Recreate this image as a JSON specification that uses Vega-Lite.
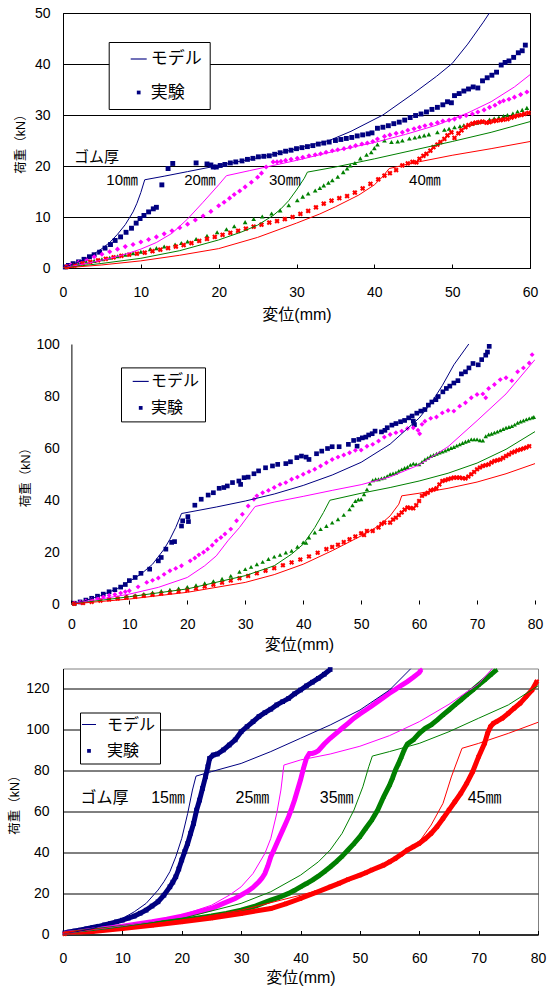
{
"$schema":"https://vega.github.io/schema/vega-lite/v6.json",
"background":"white",
"padding":{"left":8,"top":5,"right":2,"bottom":0},
"spacing":14.5,
"resolve":{"scale":{"shape":"independent","size":"independent"},"legend":{"shape":"independent","size":"independent"}},
"config":{
"font":"Liberation Sans, Noto Sans CJK JP, sans-serif",
"axis":{"domainColor":"#000","domainWidth":1,"tickColor":"#000","tickWidth":1,"gridColor":"#000","gridWidth":1,"gridOpacity":1,"labelColor":"#000","labelFontSize":14,"labelFont":"Liberation Sans, Arial, sans-serif","labelFlush":false,"labelOverlap":false,"titleColor":"#000","titleFont":"Liberation Sans, Noto Sans CJK JP, sans-serif","titleFontWeight":"normal"},
"axisX":{"titleFontSize":16},
"axisY":{"titleFontSize":12.5},
"legend":{"labelFont":"Noto Sans CJK JP, sans-serif","labelColor":"#000","strokeColor":"#000","fillColor":"#fff","symbolOpacity":1,"labelBaseline":"middle"}
},
"datasets":{
"p1m1":[{"x":0,"y":0},{"x":1,"y":0.6},{"x":2,"y":1.2},{"x":3,"y":1.9},{"x":4,"y":2.8},{"x":5,"y":3.8},{"x":6,"y":5},{"x":7,"y":6.6},{"x":8,"y":8.5},{"x":9,"y":11},{"x":9.5,"y":12.7},{"x":10,"y":14.8},{"x":10.5,"y":17.3},{"x":13,"y":18},{"x":16,"y":18.9},{"x":19,"y":19.8},{"x":22,"y":20.7},{"x":25,"y":21.6},{"x":28,"y":22.6},{"x":31,"y":23.8},{"x":34.2,"y":25},{"x":37,"y":26.8},{"x":41.1,"y":30},{"x":45,"y":34.2},{"x":48,"y":37.6},{"x":50,"y":40.1},{"x":52,"y":43.9},{"x":54,"y":48.2},{"x":55,"y":50.5}],
"p1m2":[{"x":0,"y":0},{"x":2,"y":0.6},{"x":4,"y":1.2},{"x":6,"y":1.9},{"x":8,"y":2.7},{"x":10,"y":3.7},{"x":12,"y":5},{"x":14,"y":6.8},{"x":16,"y":9.6},{"x":18,"y":12.9},{"x":20,"y":16.3},{"x":21,"y":18.1},{"x":24,"y":19.1},{"x":27,"y":20.1},{"x":30,"y":21.1},{"x":33,"y":22.2},{"x":36,"y":23.3},{"x":40,"y":24.6},{"x":44,"y":26.2},{"x":48,"y":28},{"x":52,"y":30.4},{"x":55,"y":32.6},{"x":58,"y":35.5},{"x":60,"y":37.9}],
"p1m3":[{"x":0,"y":0},{"x":5,"y":0.9},{"x":10,"y":1.9},{"x":15,"y":3.4},{"x":20,"y":5.5},{"x":23,"y":7.1},{"x":25,"y":8.4},{"x":27,"y":10.3},{"x":28,"y":11.6},{"x":29,"y":13.2},{"x":30,"y":15.3},{"x":31,"y":17.6},{"x":31.4,"y":18.8},{"x":35,"y":19.8},{"x":40,"y":21.4},{"x":45,"y":23.1},{"x":50,"y":24.8},{"x":55,"y":26.6},{"x":60,"y":28.7}],
"p1m4":[{"x":0,"y":0},{"x":5,"y":0.6},{"x":10,"y":1.4},{"x":15,"y":2.5},{"x":20,"y":3.8},{"x":25,"y":6},{"x":30,"y":8.8},{"x":33,"y":10.6},{"x":35,"y":12},{"x":38,"y":14.3},{"x":40,"y":16.3},{"x":41,"y":17.8},{"x":41.9,"y":19.5},{"x":45,"y":20.6},{"x":50,"y":22.1},{"x":55,"y":23.4},{"x":60,"y":24.8}],
"p1e1":[{"x":0.3,"y":0.2},{"x":0.7,"y":0.5},{"x":1.3,"y":0.85},{"x":2,"y":1.2},{"x":2.7,"y":1.7},{"x":3.4,"y":2.2},{"x":4,"y":2.6},{"x":4.7,"y":3.1},{"x":5.4,"y":3.9},{"x":6.1,"y":4.6},{"x":6.7,"y":5.4},{"x":7.4,"y":6.1},{"x":8.1,"y":7},{"x":8.8,"y":7.8},{"x":9.4,"y":8.8},{"x":9.9,"y":9.7},{"x":10.4,"y":10.3},{"x":11,"y":11},{"x":11.6,"y":11.6},{"x":12,"y":11.9},{"x":12.7,"y":16.3},{"x":13.5,"y":19.5},{"x":14.1,"y":20.5},{"x":17.1,"y":20.6},{"x":18.5,"y":20.4},{"x":19,"y":20.2},{"x":19.3,"y":19.8},{"x":19.7,"y":19.8},{"x":20.2,"y":20.1},{"x":20.8,"y":20.3},{"x":21.5,"y":20.6},{"x":22.2,"y":20.8},{"x":23,"y":21},{"x":23.7,"y":21.3},{"x":24.4,"y":21.5},{"x":25.1,"y":21.8},{"x":25.8,"y":21.9},{"x":26.5,"y":22},{"x":27.2,"y":22.3},{"x":27.9,"y":22.6},{"x":28.6,"y":22.9},{"x":29.3,"y":23.1},{"x":30,"y":23.4},{"x":30.7,"y":23.6},{"x":31.4,"y":23.8},{"x":32.1,"y":24},{"x":32.8,"y":24.3},{"x":33.5,"y":24.5},{"x":34.2,"y":24.7},{"x":35,"y":25},{"x":35.7,"y":25.2},{"x":36.4,"y":25.4},{"x":37.1,"y":25.6},{"x":37.8,"y":25.9},{"x":38.5,"y":26.1},{"x":39.2,"y":26.3},{"x":39.7,"y":26.5},{"x":40.4,"y":27.4},{"x":41.1,"y":27.6},{"x":41.8,"y":27.9},{"x":42.5,"y":28.3},{"x":43.2,"y":28.6},{"x":43.9,"y":29},{"x":44.6,"y":29.5},{"x":45.3,"y":29.9},{"x":46,"y":30.2},{"x":46.7,"y":30.6},{"x":47.4,"y":31.1},{"x":48.1,"y":31.5},{"x":48.8,"y":32},{"x":49.4,"y":32.6},{"x":49.9,"y":32.4},{"x":50.3,"y":33.8},{"x":50.9,"y":34.2},{"x":51.5,"y":34.7},{"x":52.1,"y":35.1},{"x":52.7,"y":35.5},{"x":53.3,"y":35.3},{"x":53.9,"y":36.7},{"x":54.5,"y":37.3},{"x":55.1,"y":37.8},{"x":55.7,"y":38.4},{"x":56.3,"y":39.8},{"x":56.8,"y":40.3},{"x":57.3,"y":40.6},{"x":57.9,"y":41.3},{"x":58.5,"y":42.2},{"x":59,"y":42.6},{"x":59.4,"y":43.7}],
"p1e2":[{"x":0.5,"y":0.3},{"x":1,"y":0.6},{"x":2,"y":1.1},{"x":3,"y":1.6},{"x":4,"y":2.2},{"x":5,"y":2.7},{"x":6,"y":3.2},{"x":7,"y":3.7},{"x":8,"y":4.2},{"x":9,"y":4.6},{"x":10,"y":5.1},{"x":11,"y":5.6},{"x":12,"y":6.1},{"x":13,"y":6.7},{"x":14,"y":7.3},{"x":15,"y":7.9},{"x":16,"y":8.6},{"x":17,"y":9.4},{"x":18,"y":10.2},{"x":19,"y":11.1},{"x":20,"y":12.2},{"x":20.7,"y":12.9},{"x":21.4,"y":13.7},{"x":22,"y":14.4},{"x":22.7,"y":15.1},{"x":23.4,"y":15.9},{"x":24.2,"y":16.8},{"x":25,"y":17.8},{"x":25.5,"y":18.6},{"x":26.1,"y":19.8},{"x":27,"y":20.8},{"x":27.5,"y":20.8},{"x":28,"y":20.9},{"x":28.6,"y":21.1},{"x":29.3,"y":21.3},{"x":30.1,"y":21.5},{"x":30.8,"y":21.7},{"x":31.6,"y":22},{"x":32.4,"y":22.2},{"x":33.1,"y":22.4},{"x":33.8,"y":22.7},{"x":34.6,"y":23},{"x":35.3,"y":23.2},{"x":36.1,"y":23.4},{"x":36.9,"y":23.7},{"x":37.6,"y":24},{"x":38.4,"y":24.3},{"x":39.1,"y":24.5},{"x":39.8,"y":24.8},{"x":40.4,"y":25.3},{"x":41.3,"y":25.8},{"x":42,"y":26.1},{"x":42.8,"y":26.4},{"x":43.6,"y":26.6},{"x":44.3,"y":27},{"x":45.1,"y":27.3},{"x":45.8,"y":27.6},{"x":46.5,"y":27.9},{"x":47.3,"y":28.2},{"x":48.1,"y":28.5},{"x":48.8,"y":28.8},{"x":49.6,"y":29},{"x":50.3,"y":29.2},{"x":51,"y":29.6},{"x":51.8,"y":29.9},{"x":52.6,"y":30.2},{"x":53.3,"y":30.6},{"x":54.1,"y":31},{"x":54.8,"y":31.5},{"x":55.5,"y":31.9},{"x":56.1,"y":32.5},{"x":56.6,"y":32.8},{"x":57.3,"y":33.1},{"x":58,"y":33.5},{"x":58.8,"y":34},{"x":59.6,"y":34.5}],
"p1e3":[{"x":0.5,"y":0.2},{"x":1.2,"y":0.5},{"x":2,"y":0.8},{"x":3,"y":1.1},{"x":4,"y":1.4},{"x":5,"y":1.7},{"x":6,"y":2},{"x":7,"y":2.3},{"x":8,"y":2.6},{"x":9,"y":2.9},{"x":10,"y":3.2},{"x":11.2,"y":3.7},{"x":12,"y":3.9},{"x":13,"y":4.2},{"x":14.4,"y":4.6},{"x":15.2,"y":4.9},{"x":16,"y":5.2},{"x":17.1,"y":5.7},{"x":18.5,"y":6.3},{"x":19.8,"y":7},{"x":21,"y":7.6},{"x":22,"y":8.2},{"x":23.4,"y":9},{"x":24.5,"y":9.6},{"x":25.6,"y":10.1},{"x":26.8,"y":10.7},{"x":27.9,"y":11.3},{"x":29,"y":12.3},{"x":30.1,"y":13.3},{"x":30.8,"y":14},{"x":31.5,"y":14.6},{"x":32.4,"y":15.2},{"x":33,"y":15.7},{"x":33.5,"y":16.2},{"x":34.1,"y":16.7},{"x":34.6,"y":17.2},{"x":35.3,"y":17.9},{"x":36,"y":18.8},{"x":36.5,"y":19.5},{"x":36.9,"y":20.1},{"x":37.5,"y":20.6},{"x":38.2,"y":21.5},{"x":39,"y":22.2},{"x":39.6,"y":22.7},{"x":40,"y":23.5},{"x":40.4,"y":24.2},{"x":41.3,"y":25},{"x":42.2,"y":24.7},{"x":43,"y":24.8},{"x":43.6,"y":25},{"x":44.5,"y":25.4},{"x":45.2,"y":25.6},{"x":45.8,"y":25.8},{"x":46.4,"y":26},{"x":47,"y":26.2},{"x":48.1,"y":26.6},{"x":49,"y":27.1},{"x":49.6,"y":27.3},{"x":50.3,"y":27.6},{"x":51,"y":27.8},{"x":51.5,"y":28},{"x":52.6,"y":28.3},{"x":53.2,"y":28.5},{"x":53.7,"y":28.7},{"x":54.8,"y":29.1},{"x":55.4,"y":29.3},{"x":56,"y":29.5},{"x":56.6,"y":29.8},{"x":57.1,"y":30},{"x":57.8,"y":30.3},{"x":58.4,"y":30.7},{"x":59,"y":31},{"x":59.6,"y":31.4}],
"p1e4":[{"x":0.5,"y":0.2},{"x":1.5,"y":0.5},{"x":2.5,"y":0.9},{"x":3.5,"y":1.2},{"x":4.5,"y":1.5},{"x":5.5,"y":1.8},{"x":6.5,"y":2.1},{"x":7.5,"y":2.4},{"x":8.5,"y":2.6},{"x":9.5,"y":2.8},{"x":10.5,"y":3},{"x":11.5,"y":3.3},{"x":12.5,"y":3.6},{"x":13.5,"y":3.9},{"x":14.5,"y":4.2},{"x":15.5,"y":4.5},{"x":16.5,"y":4.9},{"x":17.5,"y":5.3},{"x":18.5,"y":5.7},{"x":19.5,"y":6.1},{"x":20.5,"y":6.5},{"x":21.5,"y":6.9},{"x":22.5,"y":7.3},{"x":23.5,"y":7.7},{"x":24.5,"y":8.1},{"x":25.5,"y":8.5},{"x":26.5,"y":8.9},{"x":27.5,"y":9.2},{"x":28.5,"y":9.6},{"x":29.5,"y":10},{"x":30.5,"y":10.6},{"x":31.5,"y":11.2},{"x":32.5,"y":11.9},{"x":33.5,"y":12.6},{"x":34.5,"y":13.2},{"x":35.5,"y":13.7},{"x":36.5,"y":14.1},{"x":37.5,"y":14.8},{"x":38.5,"y":15.6},{"x":39.5,"y":16.5},{"x":40.5,"y":17.4},{"x":41.3,"y":18.1},{"x":42,"y":18.6},{"x":42.8,"y":19.2},{"x":43.6,"y":20.1},{"x":44.3,"y":20.5},{"x":44.9,"y":20.8},{"x":45.4,"y":20.7},{"x":45.8,"y":21.4},{"x":46.3,"y":22},{"x":46.7,"y":22.4},{"x":47.2,"y":23},{"x":47.6,"y":23.7},{"x":48.1,"y":24.2},{"x":48.5,"y":24.7},{"x":49,"y":25.3},{"x":49.4,"y":26},{"x":49.9,"y":26.6},{"x":50.3,"y":25.5},{"x":50.8,"y":26.4},{"x":51.2,"y":27},{"x":51.7,"y":27.6},{"x":52.1,"y":28},{"x":52.6,"y":28.3},{"x":53,"y":28.5},{"x":53.5,"y":28.6},{"x":53.9,"y":28.7},{"x":54.4,"y":28.5},{"x":54.8,"y":28.6},{"x":55.3,"y":28.8},{"x":55.7,"y":28.9},{"x":56.2,"y":29},{"x":56.6,"y":29.1},{"x":57.1,"y":29.2},{"x":57.6,"y":29.5},{"x":58,"y":29.7},{"x":58.4,"y":29.9},{"x":58.9,"y":30},{"x":59.3,"y":30.2},{"x":59.8,"y":30.4}],
"p1lab":[{"x":4.3,"y":21.7,"t":"ゴム厚"},{"x":7.6,"y":17.2,"t":"10㎜"},{"x":17.6,"y":17.2,"t":"20㎜"},{"x":28.5,"y":17.2,"t":"30㎜"},{"x":46.5,"y":17.2,"t":"40㎜"}],
"p2m1":[{"x":0,"y":0},{"x":2,"y":1},{"x":5,"y":3.2},{"x":8,"y":6},{"x":10,"y":8.7},{"x":12,"y":11.5},{"x":14,"y":15.3},{"x":16,"y":21.1},{"x":17,"y":24.9},{"x":18,"y":29.4},{"x":19,"y":34.8},{"x":25,"y":37.3},{"x":30,"y":39.6},{"x":35,"y":42.3},{"x":40,"y":45.6},{"x":45,"y":49.6},{"x":50,"y":54.5},{"x":55,"y":61.5},{"x":60,"y":71.5},{"x":62,"y":77},{"x":64,"y":84},{"x":66,"y":92},{"x":68.7,"y":100.4}],
"p2m2":[{"x":0,"y":0},{"x":5,"y":1.9},{"x":10,"y":3.8},{"x":15,"y":6.4},{"x":20,"y":10.2},{"x":23,"y":14.7},{"x":25,"y":18.5},{"x":27,"y":24.3},{"x":29,"y":29.4},{"x":30.5,"y":33.9},{"x":31.7,"y":37.5},{"x":35,"y":39.2},{"x":40,"y":41.4},{"x":45,"y":43.7},{"x":50,"y":45.9},{"x":55,"y":48.9},{"x":60,"y":53.5},{"x":65,"y":60.5},{"x":70,"y":70.5},{"x":75,"y":80.8},{"x":80,"y":94}],
"p2m3":[{"x":0,"y":0},{"x":10,"y":2.8},{"x":20,"y":5.8},{"x":30,"y":10.9},{"x":35,"y":14.7},{"x":38,"y":19.2},{"x":40,"y":23},{"x":42,"y":29.4},{"x":43.5,"y":35.2},{"x":44.6,"y":39.9},{"x":50,"y":42.6},{"x":55,"y":44.8},{"x":60,"y":47.3},{"x":65,"y":50.3},{"x":70,"y":54.2},{"x":75,"y":59.5},{"x":80,"y":66.3}],
"p2m4":[{"x":0,"y":0},{"x":10,"y":1.9},{"x":20,"y":4.5},{"x":30,"y":8.3},{"x":35,"y":11.3},{"x":40,"y":15.3},{"x":45,"y":20.5},{"x":50,"y":26.2},{"x":53,"y":30},{"x":55,"y":33.9},{"x":56.5,"y":38.4},{"x":57,"y":41.6},{"x":60,"y":42.6},{"x":65,"y":44.5},{"x":70,"y":46.9},{"x":75,"y":50.1},{"x":80,"y":54}],
"p2e1":[{"x":0.5,"y":0.3},{"x":1.5,"y":0.8},{"x":2.5,"y":1.5},{"x":3.5,"y":2.2},{"x":4.5,"y":3},{"x":5.5,"y":3.8},{"x":6.5,"y":4.7},{"x":7.5,"y":5.5},{"x":8.5,"y":6.5},{"x":9.3,"y":7.5},{"x":10,"y":9},{"x":11,"y":10.2},{"x":12,"y":11.8},{"x":13.5,"y":13.4},{"x":15,"y":16.6},{"x":15.5,"y":17.9},{"x":16.3,"y":21.1},{"x":17.3,"y":23.7},{"x":17.8,"y":24},{"x":19,"y":30},{"x":19.2,"y":32},{"x":20.1,"y":33.6},{"x":20.2,"y":31.7},{"x":21.3,"y":38},{"x":22.4,"y":40.3},{"x":23.6,"y":41.9},{"x":24.5,"y":42.8},{"x":25.5,"y":44.5},{"x":26.3,"y":44.8},{"x":26.9,"y":45.4},{"x":27.8,"y":46.7},{"x":28.9,"y":47.3},{"x":29.2,"y":46},{"x":29.8,"y":48.6},{"x":30.5,"y":48.8},{"x":31.5,"y":50.1},{"x":32.3,"y":51.2},{"x":33.5,"y":52.4},{"x":34.7,"y":53.1},{"x":35.6,"y":53.7},{"x":37,"y":54},{"x":37.8,"y":54.7},{"x":38.9,"y":56.3},{"x":39.7,"y":56.9},{"x":40.5,"y":56.5},{"x":41,"y":55.6},{"x":42.3,"y":57.8},{"x":43.2,"y":58.8},{"x":44.2,"y":59.8},{"x":45,"y":60.5},{"x":46.2,"y":60.5},{"x":47.8,"y":61.4},{"x":48.7,"y":62.9},{"x":49.3,"y":60.7},{"x":49.6,"y":63.3},{"x":50.2,"y":63.9},{"x":50.8,"y":64.2},{"x":51.3,"y":65},{"x":51.9,"y":65.5},{"x":52.4,"y":66.5},{"x":53.5,"y":66.2},{"x":54.1,"y":66.8},{"x":54.5,"y":67.8},{"x":55.3,"y":68.8},{"x":56,"y":69.4},{"x":56.8,"y":70.1},{"x":57.5,"y":70.6},{"x":58.2,"y":71.6},{"x":58.8,"y":72.3},{"x":59,"y":70.3},{"x":59.2,"y":69},{"x":59.6,"y":73.4},{"x":60.3,"y":74.2},{"x":61,"y":74.8},{"x":61.6,"y":76.5},{"x":62.2,"y":77.7},{"x":62.9,"y":78.6},{"x":63.3,"y":79.8},{"x":64.1,"y":81.6},{"x":64.7,"y":82.9},{"x":65.3,"y":83.8},{"x":66,"y":85},{"x":66.7,"y":85.9},{"x":67.3,"y":88.5},{"x":68,"y":89.3},{"x":68.6,"y":90.8},{"x":69.3,"y":92.5},{"x":70.2,"y":92},{"x":70.8,"y":94},{"x":71.5,"y":95.7},{"x":71.8,"y":96.9},{"x":72.1,"y":99.1}],
"p2e2":[{"x":0.5,"y":0.3},{"x":1.5,"y":0.7},{"x":2.5,"y":1.2},{"x":3.5,"y":1.7},{"x":4.5,"y":2.3},{"x":5.5,"y":2.8},{"x":6.5,"y":3.3},{"x":7.5,"y":3.7},{"x":8.5,"y":4.2},{"x":9.3,"y":4.7},{"x":10,"y":5.1},{"x":11.5,"y":6.6},{"x":13,"y":8.3},{"x":14,"y":9.1},{"x":15,"y":10},{"x":16,"y":11.4},{"x":17,"y":12.8},{"x":18,"y":13.7},{"x":19,"y":14.7},{"x":20.5,"y":16.6},{"x":21.3,"y":17.7},{"x":22,"y":18.9},{"x":22.8,"y":19.9},{"x":23.5,"y":21.1},{"x":24.3,"y":22.6},{"x":25,"y":24.3},{"x":25.8,"y":25.6},{"x":26.5,"y":26.9},{"x":27.5,"y":28.8},{"x":28.5,"y":32},{"x":29.5,"y":34.5},{"x":30.5,"y":37.7},{"x":31.5,"y":40.3},{"x":32,"y":41.6},{"x":33,"y":42.8},{"x":34,"y":43.7},{"x":35,"y":44.8},{"x":36,"y":46},{"x":37,"y":46.7},{"x":38,"y":48},{"x":39,"y":48.8},{"x":40,"y":49.9},{"x":41,"y":50.9},{"x":42,"y":51.8},{"x":43,"y":53.1},{"x":44,"y":54.3},{"x":45,"y":55.6},{"x":46,"y":56.5},{"x":47,"y":57.3},{"x":48,"y":58.2},{"x":49,"y":59.1},{"x":50,"y":59.2},{"x":51,"y":60.7},{"x":52,"y":61.4},{"x":53,"y":62.7},{"x":54,"y":64.2},{"x":55,"y":65.2},{"x":56,"y":65.9},{"x":57,"y":66.5},{"x":58,"y":67.5},{"x":59,"y":67.8},{"x":59.8,"y":66.8},{"x":60.1,"y":65.5},{"x":60.5,"y":69.1},{"x":61,"y":70.3},{"x":62,"y":71.4},{"x":63,"y":71.9},{"x":64,"y":73.5},{"x":65,"y":74.4},{"x":66,"y":74.2},{"x":67,"y":76.1},{"x":68,"y":77.4},{"x":69,"y":79.3},{"x":70,"y":80.6},{"x":71,"y":80.8},{"x":71.5,"y":79.3},{"x":72,"y":82.9},{"x":73,"y":84.4},{"x":74,"y":86.3},{"x":75,"y":87},{"x":76,"y":85.9},{"x":77,"y":89.3},{"x":78,"y":90.8},{"x":79,"y":92.7},{"x":79.5,"y":95.9}],
"p2e3":[{"x":0.5,"y":0.2},{"x":2,"y":0.6},{"x":3.5,"y":1.1},{"x":5,"y":1.6},{"x":6.5,"y":2},{"x":8,"y":2.5},{"x":9.5,"y":3},{"x":11,"y":3.4},{"x":12.5,"y":3.9},{"x":14,"y":4.4},{"x":15.5,"y":5},{"x":17,"y":5.5},{"x":18.5,"y":6},{"x":20,"y":6.6},{"x":21.5,"y":7.2},{"x":23,"y":8},{"x":24.5,"y":8.8},{"x":26,"y":9.7},{"x":27.5,"y":10.8},{"x":29,"y":12.4},{"x":30,"y":13.4},{"x":31,"y":14.3},{"x":32,"y":15.3},{"x":33,"y":16.2},{"x":34,"y":17.3},{"x":35,"y":18.2},{"x":36,"y":18.9},{"x":37,"y":19.8},{"x":38,"y":20.5},{"x":39,"y":22},{"x":40,"y":23.7},{"x":40.5,"y":23.5},{"x":41,"y":25.6},{"x":42,"y":27.5},{"x":43,"y":28.8},{"x":44,"y":30},{"x":45,"y":31.3},{"x":46,"y":32.6},{"x":47,"y":34.3},{"x":48,"y":36.4},{"x":48.5,"y":38},{"x":49,"y":39.6},{"x":49.5,"y":40.2},{"x":50,"y":40.3},{"x":50.5,"y":42.2},{"x":51,"y":44.1},{"x":51.5,"y":46.3},{"x":52,"y":47.6},{"x":52.5,"y":48},{"x":53,"y":48},{"x":53.5,"y":48.3},{"x":54,"y":48.6},{"x":54.5,"y":49.2},{"x":55,"y":49.9},{"x":55.5,"y":50.2},{"x":56,"y":50.5},{"x":56.5,"y":51.2},{"x":57,"y":51.8},{"x":57.5,"y":52.3},{"x":58,"y":52.7},{"x":58.5,"y":53.5},{"x":59,"y":54},{"x":59.5,"y":53.8},{"x":60,"y":53.7},{"x":60.5,"y":54.6},{"x":61,"y":55.6},{"x":61.5,"y":56.2},{"x":62,"y":56.9},{"x":62.5,"y":57.3},{"x":63,"y":57.8},{"x":63.5,"y":58.2},{"x":64,"y":58.6},{"x":64.5,"y":59},{"x":65,"y":59.5},{"x":65.5,"y":60},{"x":66,"y":60.4},{"x":66.5,"y":60.9},{"x":67,"y":61.4},{"x":67.5,"y":61.9},{"x":68,"y":62.4},{"x":68.5,"y":62.8},{"x":69,"y":63.3},{"x":69.5,"y":63.3},{"x":70,"y":63.3},{"x":70.5,"y":63},{"x":71,"y":62.9},{"x":71.5,"y":64.5},{"x":72,"y":65.2},{"x":72.5,"y":65.5},{"x":73,"y":65.9},{"x":73.5,"y":66.3},{"x":74,"y":66.8},{"x":74.5,"y":67.3},{"x":75,"y":67.8},{"x":75.5,"y":68.1},{"x":76,"y":68.4},{"x":76.5,"y":69},{"x":77,"y":69.7},{"x":77.5,"y":70.2},{"x":78,"y":70.6},{"x":78.5,"y":71},{"x":79,"y":71.4},{"x":79.5,"y":71.7},{"x":79.8,"y":71.9}],
"p2e4":[{"x":0.5,"y":0.1},{"x":2,"y":0.4},{"x":3.5,"y":0.8},{"x":5,"y":1.3},{"x":6.5,"y":1.7},{"x":8,"y":2.1},{"x":9.5,"y":2.5},{"x":11,"y":2.8},{"x":12.5,"y":3.2},{"x":14,"y":3.6},{"x":15.5,"y":4},{"x":17,"y":4.4},{"x":18.5,"y":4.9},{"x":20,"y":5.4},{"x":21.5,"y":6},{"x":23,"y":6.7},{"x":24.5,"y":7.4},{"x":26,"y":8.2},{"x":27.5,"y":9},{"x":29,"y":9.9},{"x":30.5,"y":10.8},{"x":32,"y":11.8},{"x":33.5,"y":12.8},{"x":35,"y":13.8},{"x":36.5,"y":14.9},{"x":38,"y":16},{"x":39.5,"y":17.1},{"x":41,"y":18.3},{"x":42.5,"y":19.7},{"x":44,"y":21.1},{"x":45,"y":21.9},{"x":46,"y":22.8},{"x":47,"y":23.8},{"x":48,"y":24.9},{"x":49,"y":26},{"x":50,"y":27.2},{"x":50.5,"y":26.5},{"x":51,"y":28.1},{"x":52,"y":28.1},{"x":53,"y":29.4},{"x":53.5,"y":30.8},{"x":54,"y":31.3},{"x":55,"y":31.3},{"x":55.5,"y":32.5},{"x":56,"y":33.2},{"x":56.5,"y":34.2},{"x":57,"y":35.2},{"x":57.5,"y":36.3},{"x":58,"y":37.1},{"x":58.5,"y":36.9},{"x":59,"y":36.8},{"x":59.5,"y":38},{"x":60,"y":39.6},{"x":60.5,"y":41.6},{"x":61,"y":42.2},{"x":61.5,"y":42.8},{"x":62,"y":43.7},{"x":62.5,"y":44},{"x":63,"y":44.5},{"x":63.5,"y":46},{"x":64,"y":47.3},{"x":64.5,"y":47.6},{"x":65,"y":48},{"x":65.5,"y":48.3},{"x":66,"y":48.6},{"x":66.5,"y":48.6},{"x":67,"y":48.6},{"x":67.5,"y":48.4},{"x":68,"y":48.3},{"x":68.5,"y":49},{"x":69,"y":49.9},{"x":69.5,"y":50.8},{"x":70,"y":51.8},{"x":70.5,"y":52.5},{"x":71,"y":53.1},{"x":71.5,"y":53.4},{"x":72,"y":53.7},{"x":72.5,"y":54.4},{"x":73,"y":55},{"x":73.5,"y":55.3},{"x":74,"y":55.6},{"x":74.5,"y":56.2},{"x":75,"y":56.9},{"x":75.5,"y":57.5},{"x":76,"y":58.2},{"x":76.5,"y":58.6},{"x":77,"y":59.1},{"x":77.5,"y":59.4},{"x":78,"y":59.8},{"x":78.5,"y":60.2},{"x":79,"y":60.7}],
"p2grid":[{"y":0},{"y":20},{"y":40},{"y":60},{"y":80}],
"p2top":[{"y":100}],
"p2right":[{"x":80}],
"p3m1":[{"x":0,"y":0},{"x":5,"y":2.9},{"x":10,"y":7.8},{"x":12,"y":11.1},{"x":14,"y":15.2},{"x":16,"y":21.7},{"x":17,"y":25.8},{"x":18,"y":30.7},{"x":19,"y":38},{"x":20,"y":47},{"x":21,"y":59.2},{"x":21.8,"y":70.6},{"x":22.4,"y":77.4},{"x":25,"y":79.6},{"x":30,"y":83.6},{"x":35,"y":89.4},{"x":40,"y":95.9},{"x":45,"y":102.4},{"x":50,"y":109.7},{"x":55,"y":119.5},{"x":58.6,"y":130}],
"p3m2":[{"x":0,"y":0},{"x":5,"y":2},{"x":10,"y":4.1},{"x":15,"y":6.2},{"x":20,"y":9.5},{"x":25,"y":14.3},{"x":28,"y":19.2},{"x":30,"y":23.3},{"x":32,"y":29.8},{"x":34,"y":39.6},{"x":35,"y":47},{"x":36,"y":59.2},{"x":36.7,"y":70.6},{"x":37.2,"y":82.8},{"x":40,"y":85.3},{"x":45,"y":88.2},{"x":50,"y":92},{"x":55,"y":97.2},{"x":60,"y":104},{"x":65,"y":112.5},{"x":70,"y":122.5},{"x":72.3,"y":130}],
"p3m3":[{"x":0,"y":0},{"x":10,"y":3.8},{"x":20,"y":7.8},{"x":30,"y":15.2},{"x":35,"y":20.9},{"x":40,"y":29},{"x":43,"y":35.5},{"x":45,"y":41.3},{"x":47,"y":49.4},{"x":49,"y":60.8},{"x":50.5,"y":72.2},{"x":51.5,"y":82},{"x":52.1,"y":87.2},{"x":55,"y":89.4},{"x":60,"y":93.4},{"x":65,"y":99.1},{"x":70,"y":105.7},{"x":75,"y":112.2},{"x":80,"y":121.5}],
"p3m4":[{"x":0,"y":0},{"x":10,"y":2.9},{"x":20,"y":6.7},{"x":30,"y":11.9},{"x":40,"y":19.2},{"x":45,"y":23.3},{"x":50,"y":28.2},{"x":55,"y":34.7},{"x":58,"y":40.4},{"x":60,"y":45.3},{"x":62,"y":53.5},{"x":64,"y":64.1},{"x":65.4,"y":77},{"x":67.2,"y":91},{"x":70,"y":93.4},{"x":75,"y":98.3},{"x":80,"y":103.7}],
"p3e1":[{"x":0.3,"y":0.8},{"x":1,"y":1.2},{"x":2,"y":1.7},{"x":3,"y":2.2},{"x":4,"y":2.8},{"x":5,"y":3.4},{"x":6,"y":4},{"x":7,"y":4.7},{"x":8,"y":5.4},{"x":9,"y":6.2},{"x":10,"y":7},{"x":11,"y":8},{"x":12,"y":9},{"x":13,"y":10.4},{"x":14,"y":11.9},{"x":15,"y":13.9},{"x":16,"y":16},{"x":17,"y":19.2},{"x":18,"y":23.3},{"x":18.5,"y":25.6},{"x":19,"y":28.2},{"x":19.5,"y":32},{"x":20,"y":36.4},{"x":20.5,"y":40.5},{"x":21,"y":44.5},{"x":21.5,"y":49.5},{"x":22,"y":54.3},{"x":22.5,"y":60.8},{"x":23,"y":65.7},{"x":23.5,"y":71.4},{"x":24,"y":77.1},{"x":24.4,"y":82},{"x":24.7,"y":86.1},{"x":25.3,"y":87.7},{"x":26,"y":88.2},{"x":27,"y":90.2},{"x":28,"y":92.6},{"x":29,"y":95.1},{"x":30,"y":99.1},{"x":31,"y":101.6},{"x":32,"y":104},{"x":33,"y":106.5},{"x":34,"y":108.4},{"x":35,"y":110.1},{"x":36,"y":112.2},{"x":37,"y":113.8},{"x":38,"y":115.4},{"x":39,"y":117.6},{"x":40,"y":119.5},{"x":41,"y":121.5},{"x":42,"y":123.3},{"x":43,"y":125.2},{"x":44,"y":127.2},{"x":45,"y":129.5}],
"p3e2":[{"x":0.3,"y":0.5},{"x":2.5,"y":1.1},{"x":5,"y":2.1},{"x":7.5,"y":3.1},{"x":10,"y":4.1},{"x":12.5,"y":5.1},{"x":15,"y":6.2},{"x":17.5,"y":7.5},{"x":20,"y":9},{"x":22.5,"y":10.8},{"x":25,"y":12.7},{"x":27,"y":15.2},{"x":29,"y":17.6},{"x":31,"y":20.9},{"x":32,"y":23},{"x":33,"y":25.8},{"x":33.5,"y":27.5},{"x":34,"y":29.8},{"x":34.5,"y":33.5},{"x":35,"y":38},{"x":35.5,"y":41.2},{"x":36,"y":44.5},{"x":36.5,"y":47.8},{"x":37,"y":51},{"x":37.5,"y":54.3},{"x":38,"y":57.6},{"x":38.5,"y":61.5},{"x":39,"y":65.7},{"x":39.5,"y":70.6},{"x":40,"y":75.5},{"x":40.5,"y":81.2},{"x":41,"y":86.1},{"x":41.5,"y":88.5},{"x":42,"y":88.5},{"x":42.5,"y":89},{"x":43,"y":89.8},{"x":44,"y":93.1},{"x":45,"y":95.9},{"x":46,"y":98.3},{"x":47,"y":100.8},{"x":48,"y":103.2},{"x":49,"y":105.7},{"x":50,"y":107.8},{"x":51,"y":109.7},{"x":52,"y":111.7},{"x":53,"y":113.8},{"x":54,"y":115.9},{"x":55,"y":117.9},{"x":56,"y":119.8},{"x":57,"y":121.8},{"x":58,"y":123.6},{"x":59,"y":125.7},{"x":60,"y":128},{"x":60.3,"y":129.3}],
"p3e3":[{"x":0.3,"y":0.3},{"x":2.5,"y":1},{"x":5,"y":1.8},{"x":7.5,"y":2.6},{"x":10,"y":3.4},{"x":12.5,"y":4.2},{"x":15,"y":5.1},{"x":17.5,"y":6},{"x":20,"y":7},{"x":22.5,"y":8},{"x":25,"y":9},{"x":27.5,"y":10.3},{"x":30,"y":11.9},{"x":32.5,"y":14},{"x":35,"y":16.8},{"x":36.5,"y":18.3},{"x":38,"y":20.1},{"x":39,"y":21.6},{"x":40,"y":23.3},{"x":41,"y":24.9},{"x":42,"y":26.6},{"x":43,"y":28.5},{"x":44,"y":30.7},{"x":45,"y":33},{"x":46,"y":35.5},{"x":47,"y":38.2},{"x":48,"y":41.3},{"x":49,"y":44.4},{"x":50,"y":47.8},{"x":51,"y":51.9},{"x":52,"y":55.9},{"x":53,"y":60.8},{"x":54,"y":67.3},{"x":55,"y":73},{"x":55.5,"y":76.5},{"x":56,"y":80.4},{"x":56.5,"y":83.5},{"x":57,"y":86.9},{"x":57.5,"y":90.5},{"x":58,"y":93.1},{"x":59,"y":95.1},{"x":60,"y":98.3},{"x":61,"y":100.8},{"x":62,"y":102.4},{"x":63,"y":104.8},{"x":64,"y":107.3},{"x":65,"y":109.7},{"x":66,"y":112.2},{"x":67,"y":114.6},{"x":68,"y":117.1},{"x":69,"y":119.5},{"x":70,"y":122},{"x":71,"y":124.4},{"x":72,"y":126.9},{"x":73,"y":129.3}],
"p3e4":[{"x":0.3,"y":0.3},{"x":5,"y":1.5},{"x":10,"y":2.9},{"x":15,"y":4.5},{"x":20,"y":6.2},{"x":25,"y":8.1},{"x":30,"y":10.3},{"x":35,"y":12.7},{"x":37.5,"y":15},{"x":40,"y":17.6},{"x":42.5,"y":20.4},{"x":45,"y":23.3},{"x":46.5,"y":25},{"x":48,"y":26.9},{"x":50,"y":29},{"x":51,"y":30.2},{"x":52,"y":31.5},{"x":54,"y":33.9},{"x":55,"y":35.5},{"x":56,"y":37.2},{"x":57,"y":39.2},{"x":58,"y":41.3},{"x":59,"y":42.9},{"x":60,"y":44.5},{"x":61,"y":46.8},{"x":62,"y":49.4},{"x":63,"y":52.7},{"x":64,"y":56.7},{"x":65,"y":60.8},{"x":66,"y":64.9},{"x":67,"y":69},{"x":68,"y":73.9},{"x":69,"y":79.6},{"x":70,"y":86.9},{"x":71,"y":93.4},{"x":71.5,"y":98.3},{"x":72,"y":101.6},{"x":72.5,"y":103.2},{"x":73,"y":104},{"x":74,"y":105.7},{"x":75,"y":108.1},{"x":76,"y":110.6},{"x":77,"y":113},{"x":78,"y":116.3},{"x":79,"y":119.5},{"x":79.8,"y":123.6}],
"p3lab":[{"x":7,"y":66.5,"t":"ゴム厚"},{"x":17.7,"y":66.5,"t":"15㎜"},{"x":31.9,"y":66.5,"t":"25㎜"},{"x":46.1,"y":66.5,"t":"35㎜"},{"x":71,"y":66.5,"t":"45㎜"}],
"keys":[{"k":"モデル"},{"k":"実験"}]
},
"vconcat":[
{
"spacing":14,
"resolve":{"scale":{"shape":"independent","size":"independent"},"legend":{"shape":"independent","size":"independent"}},
"vconcat":[
{
"width":467,"height":255,
"view":{"stroke":"#000","strokeWidth":1},
"encoding":{
"x":{"field":"x","type":"quantitative","title":"変位(mm)","scale":{"domain":[0,60],"nice":false,"zero":false},"axis":{"values":[0,10,20,30,40,50,60],"tickSize":-4,"labelPadding":21,"titlePadding":7,"grid":false}},
"y":{"field":"y","type":"quantitative","title":"荷重（kN）","scale":{"domain":[0,50],"nice":false},"axis":{"values":[0,10,20,30,40,50],"ticks":false,"labelPadding":13,"titlePadding":7,"grid":true}}
},
"layer":[
{"data":{"name":"p1e1"},"mark":{"type":"point","shape":"square","filled":true,"color":"#000080","size":24,"opacity":1},"encoding":{}},
{"data":{"name":"p1e2"},"mark":{"type":"point","shape":"diamond","filled":true,"color":"#FF00FF","size":26,"opacity":1},"encoding":{}},
{"data":{"name":"p1e3"},"mark":{"type":"point","shape":"triangle-up","filled":true,"color":"#008000","size":22,"opacity":1},"encoding":{}},
{"data":{"name":"p1e4"},"mark":{"type":"point","shape":"cross","angle":45,"filled":true,"color":"#FF0000","size":28,"opacity":1},"encoding":{}},
{"data":{"name":"p1m1"},"mark":{"type":"line","color":"#000080","strokeWidth":1,"clip":true},"encoding":{}},
{"data":{"name":"p1m2"},"mark":{"type":"line","color":"#FF00FF","strokeWidth":1,"clip":true},"encoding":{}},
{"data":{"name":"p1m3"},"mark":{"type":"line","color":"#008000","strokeWidth":1,"clip":true},"encoding":{}},
{"data":{"name":"p1m4"},"mark":{"type":"line","color":"#FF0000","strokeWidth":1,"clip":true},"encoding":{}},
{"data":{"name":"p1lab"},"mark":{"type":"text","fontSize":15,"font":"Liberation Sans, Noto Sans CJK JP, sans-serif","color":"#000","align":"center","baseline":"middle"},"encoding":{"text":{"field":"t","type":"nominal"}}},
{"data":{"name":"keys"},"mark":{"type":"point","filled":true,"color":"#000080","opacity":0},"encoding":{
"shape":{"field":"k","type":"nominal","scale":{"domain":["モデル","実験"],"range":["M-1,-0.07L1,-0.07L1,0.07L-1,0.07Z","square"]},"legend":{"orient":"none","legendX":45.7,"legendY":29,"title":null,"direction":"vertical","padding":8,"rowPadding":16,"labelFontSize":17,"symbolOffset":13,"labelOffset":3,"labelExpr":"datum.label + '\u3000'"}},
"size":{"field":"k","type":"nominal","scale":{"domain":["モデル","実験"],"range":[256,14]},"legend":{"orient":"none","legendX":45.7,"legendY":29,"title":null,"direction":"vertical","padding":8,"rowPadding":16,"labelFontSize":17,"symbolOffset":13,"labelOffset":3,"labelExpr":"datum.label + '\u3000'"}}}}
]
},
{
"width":472,"height":260,
"view":{"stroke":null},
"encoding":{
"x":{"field":"x","type":"quantitative","title":"変位(mm)","scale":{"domain":[-1.45,80],"nice":false,"zero":false},"axis":{"values":[0,10,20,30,40,50,60,70,80],"tickSize":-4,"labelPadding":17,"titlePadding":5,"grid":false,"domain":false}},
"y":{"field":"y","type":"quantitative","title":"荷重（kN）","scale":{"domain":[0,100],"nice":false},"axis":{"values":[0,20,40,60,80,100],"ticks":false,"labelPadding":12,"titlePadding":4,"grid":false,"offset":-8.4}}
},
"layer":[
{"data":{"name":"p2grid"},"mark":{"type":"rule","color":"#000","strokeWidth":1},"encoding":{"x":{"datum":0},"x2":{"datum":80}}},
{"data":{"name":"p2top"},"mark":{"type":"rule","color":"#808080","strokeWidth":1},"encoding":{"x":{"datum":0},"x2":{"datum":80}}},
{"data":{"name":"p2right"},"mark":{"type":"rule","color":"#808080","strokeWidth":1},"encoding":{"y":{"datum":0},"y2":{"datum":100}}},
{"data":{"name":"p2e1"},"mark":{"type":"point","shape":"square","filled":true,"color":"#000080","size":22,"opacity":1},"encoding":{}},
{"data":{"name":"p2e2"},"mark":{"type":"point","shape":"diamond","filled":true,"color":"#FF00FF","size":24,"opacity":1},"encoding":{}},
{"data":{"name":"p2e3"},"mark":{"type":"point","shape":"triangle-up","filled":true,"color":"#008000","size":20,"opacity":1},"encoding":{}},
{"data":{"name":"p2e4"},"mark":{"type":"point","shape":"cross","angle":45,"filled":true,"color":"#FF0000","size":26,"opacity":1},"encoding":{}},
{"data":{"name":"p2m1"},"mark":{"type":"line","color":"#000080","strokeWidth":1,"clip":true},"encoding":{}},
{"data":{"name":"p2m2"},"mark":{"type":"line","color":"#FF00FF","strokeWidth":1,"clip":true},"encoding":{}},
{"data":{"name":"p2m3"},"mark":{"type":"line","color":"#008000","strokeWidth":1,"clip":true},"encoding":{}},
{"data":{"name":"p2m4"},"mark":{"type":"line","color":"#FF0000","strokeWidth":1,"clip":true},"encoding":{}},
{"data":{"name":"keys"},"mark":{"type":"point","filled":true,"color":"#000080","opacity":0},"encoding":{
"shape":{"field":"k","type":"nominal","scale":{"domain":["モデル","実験"],"range":["M-1,-0.07L1,-0.07L1,0.07L-1,0.07Z","square"]},"legend":{"orient":"none","legendX":58,"legendY":23.4,"title":null,"direction":"vertical","padding":5,"rowPadding":10.5,"labelFontSize":16,"symbolOffset":5.7,"labelOffset":1.3,"labelExpr":"datum.label + '\u2002\u2009'"}},
"size":{"field":"k","type":"nominal","scale":{"domain":["モデル","実験"],"range":[256,14]},"legend":{"orient":"none","legendX":58,"legendY":23.4,"title":null,"direction":"vertical","padding":5,"rowPadding":10.5,"labelFontSize":16,"symbolOffset":5.7,"labelOffset":1.3,"labelExpr":"datum.label + '\u2002\u2009'"}}}}
]
}
]
},
{
"width":475,"height":266,
"view":{"stroke":"#808080","strokeWidth":1},
"encoding":{
"x":{"field":"x","type":"quantitative","title":"変位(mm)","scale":{"domain":[0,80],"nice":false,"zero":false},"axis":{"values":[0,10,20,30,40,50,60,70,80],"tickSize":-4,"labelPadding":21,"titlePadding":4,"grid":false}},
"y":{"field":"y","type":"quantitative","title":"荷重（kN）","scale":{"domain":[0,130],"nice":false},"axis":{"values":[0,20,40,60,80,100,120],"ticks":false,"labelPadding":14,"titlePadding":4,"grid":true}}
},
"layer":[
{"data":{"name":"p3e1"},"mark":{"type":"line","color":"#000080","strokeWidth":5,"clip":true},"encoding":{}},
{"data":{"name":"p3e1"},"mark":{"type":"point","shape":"square","filled":true,"color":"#000080","size":22,"opacity":1},"encoding":{}},
{"data":{"name":"p3e2"},"mark":{"type":"line","color":"#FF00FF","strokeWidth":5,"clip":true},"encoding":{}},
{"data":{"name":"p3e2"},"mark":{"type":"point","shape":"diamond","filled":true,"color":"#FF00FF","size":22,"opacity":1},"encoding":{}},
{"data":{"name":"p3e3"},"mark":{"type":"line","color":"#008000","strokeWidth":5,"clip":true},"encoding":{}},
{"data":{"name":"p3e3"},"mark":{"type":"point","shape":"triangle-up","filled":true,"color":"#008000","size":20,"opacity":1},"encoding":{}},
{"data":{"name":"p3e4"},"mark":{"type":"line","color":"#FF0000","strokeWidth":5,"clip":true},"encoding":{}},
{"data":{"name":"p3e4"},"mark":{"type":"point","shape":"cross","angle":45,"filled":true,"color":"#FF0000","size":26,"opacity":1},"encoding":{}},
{"data":{"name":"p3m1"},"mark":{"type":"line","color":"#000080","strokeWidth":1,"clip":true},"encoding":{}},
{"data":{"name":"p3m2"},"mark":{"type":"line","color":"#FF00FF","strokeWidth":1,"clip":true},"encoding":{}},
{"data":{"name":"p3m3"},"mark":{"type":"line","color":"#008000","strokeWidth":1,"clip":true},"encoding":{}},
{"data":{"name":"p3m4"},"mark":{"type":"line","color":"#FF0000","strokeWidth":1,"clip":true},"encoding":{}},
{"data":{"name":"p3lab"},"mark":{"type":"text","fontSize":16,"font":"Liberation Sans, Noto Sans CJK JP, sans-serif","color":"#000","align":"center","baseline":"middle"},"encoding":{"text":{"field":"t","type":"nominal"}}},
{"data":{"name":"keys"},"mark":{"type":"point","filled":true,"color":"#000080","opacity":0},"encoding":{
"shape":{"field":"k","type":"nominal","scale":{"domain":["モデル","実験"],"range":["M-1,-0.07L1,-0.07L1,0.07L-1,0.07Z","square"]},"legend":{"orient":"none","legendX":17,"legendY":44,"title":null,"direction":"vertical","padding":4,"rowPadding":10.4,"labelFontSize":16,"symbolOffset":-3,"labelOffset":10,"labelExpr":"datum.label + '\u2002\u2002'"}},
"size":{"field":"k","type":"nominal","scale":{"domain":["モデル","実験"],"range":[196,14]},"legend":{"orient":"none","legendX":17,"legendY":44,"title":null,"direction":"vertical","padding":4,"rowPadding":10.4,"labelFontSize":16,"symbolOffset":-3,"labelOffset":10,"labelExpr":"datum.label + '\u2002\u2002'"}}}}
]
}
]
}
